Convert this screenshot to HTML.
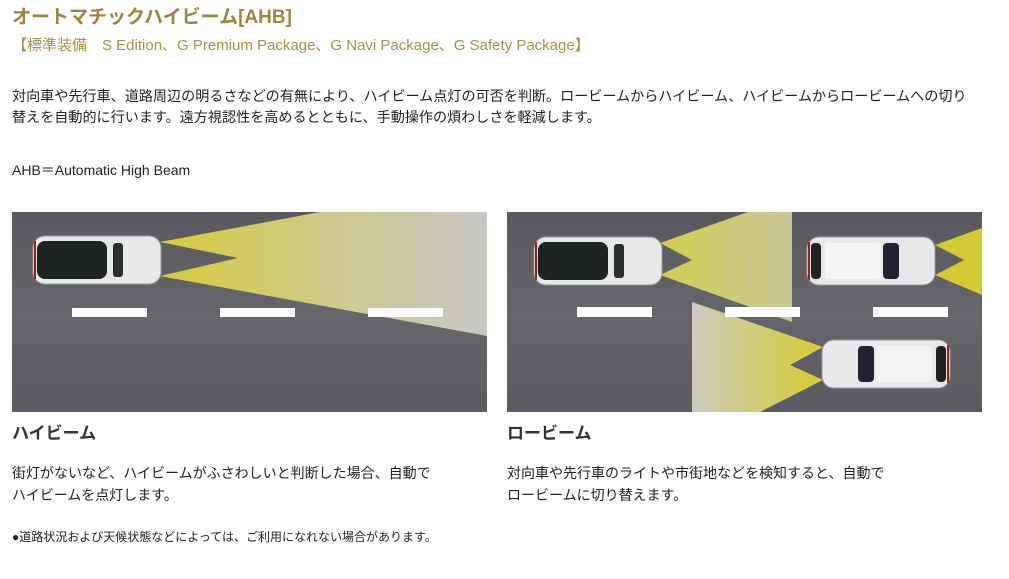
<!DOCTYPE html>
<html><head><meta charset="utf-8"><style>
body{margin:0;width:1009px;height:579px;background:#fff;position:relative;overflow:hidden;font-family:"Liberation Sans","Noto Sans CJK JP",sans-serif;color:#222}
.t{position:absolute;white-space:nowrap;line-height:1}
</style></head><body>
<div class="t" style="left:12px;top:8px;font-size:19px;color:#9c8540;font-weight:bold">オートマチックハイビーム[AHB]</div>
<div class="t" style="left:12px;top:38px;font-size:15px;color:#a89048">【標準装備　S Edition、G Premium Package、G Navi Package、G Safety Package】</div>
<div class="t" style="left:12px;top:89px;font-size:14.1px">対向車や先行車、道路周辺の明るさなどの有無により、ハイビーム点灯の可否を判断。ロービームからハイビーム、ハイビームからロービームへの切り</div>
<div class="t" style="left:12px;top:110px;font-size:14.1px">替えを自動的に行います。遠方視認性を高めるとともに、手動操作の煩わしさを軽減します。</div>
<div class="t" style="left:12px;top:163px;font-size:14px">AHB＝Automatic High Beam</div>

<svg style="position:absolute;left:0;top:0" width="1009" height="579">
<defs>
<linearGradient id="bg" x1="0" y1="0" x2="0" y2="1"><stop offset="0" stop-color="#5a5a5e"/><stop offset="0.5" stop-color="#66666a"/><stop offset="1" stop-color="#5c5c60"/></linearGradient>
<linearGradient id="hb" x1="0" y1="0" x2="1" y2="0"><stop offset="0" stop-color="#d6cc3a"/><stop offset="0.5" stop-color="#cfca8a"/><stop offset="1" stop-color="#c8c8c4"/></linearGradient>
<linearGradient id="lb" x1="0" y1="0" x2="1" y2="0"><stop offset="0" stop-color="#d2cf50"/><stop offset="1" stop-color="#c9c69a"/></linearGradient>
<linearGradient id="lb2" x1="1" y1="0" x2="0" y2="0"><stop offset="0" stop-color="#d6cc30"/><stop offset="1" stop-color="#cccbbf"/></linearGradient>
<g id="car">
<rect x="0" y="0" width="128" height="48" rx="12" fill="#e8e8ea" stroke="#9a9a9e"/>
<rect x="4" y="5" width="70" height="38" rx="8" fill="#1e2424"/>
<rect x="80" y="7" width="10" height="34" rx="3" fill="#2a3030"/>
<rect x="1" y="5" width="2" height="38" fill="#a02020"/>
</g>
<g id="car2">
<rect x="0" y="0" width="128" height="48" rx="12" fill="#e8e8ea" stroke="#9a9a9e"/>
<rect x="4" y="6" width="10" height="36" rx="4" fill="#222"/>
<rect x="18" y="6" width="56" height="36" rx="3" fill="#f4f4f6"/>
<rect x="76" y="6" width="16" height="36" rx="4" fill="#223"/>
<rect x="1" y="5" width="2" height="38" fill="#a02020"/>
</g>
</defs>
<rect x="12" y="212" width="475" height="200" fill="url(#bg)"/>
<polygon points="160,242 320,212 487,212 487,336 160,276 238,258" fill="url(#hb)"/>
<rect x="72" y="308" width="75" height="9" fill="#fff"/>
<rect x="220" y="308" width="75" height="9" fill="#fff"/>
<rect x="368" y="308" width="75" height="9" fill="#fff"/>
<use href="#car" x="33" y="236"/>

<rect x="507" y="212" width="475" height="200" fill="url(#bg)"/>
<polygon points="660,243 748,212 792,212 792,322 660,275 692,260" fill="url(#lb)"/>
<polygon points="935,245 982,228 982,295 935,275 964,260" fill="#d4ca34"/>
<polygon points="692,302 823,347 790,365 823,380 760,412 692,412" fill="url(#lb2)"/>
<rect x="577" y="307" width="75" height="10" fill="#fff"/>
<rect x="725" y="307" width="75" height="10" fill="#fff"/>
<rect x="873" y="307" width="75" height="10" fill="#fff"/>
<use href="#car" x="534" y="237"/>
<use href="#car2" x="807" y="237"/>
<g transform="translate(950,388) rotate(180)"><use href="#car2" x="0" y="0"/></g>
</svg>

<div class="t" style="left:12px;top:425px;font-size:17px;font-weight:bold;color:#333">ハイビーム</div>
<div class="t" style="left:507px;top:425px;font-size:17px;font-weight:bold;color:#333">ロービーム</div>
<div class="t" style="left:12px;top:466px;font-size:14px">街灯がないなど、ハイビームがふさわしいと判断した場合、自動で</div>
<div class="t" style="left:12px;top:488px;font-size:14px">ハイビームを点灯します。</div>
<div class="t" style="left:507px;top:466px;font-size:14px">対向車や先行車のライトや市街地などを検知すると、自動で</div>
<div class="t" style="left:507px;top:488px;font-size:14px">ロービームに切り替えます。</div>
<div class="t" style="left:12px;top:531px;font-size:12px">●道路状況および天候状態などによっては、ご利用になれない場合があります。</div>
</body></html>
